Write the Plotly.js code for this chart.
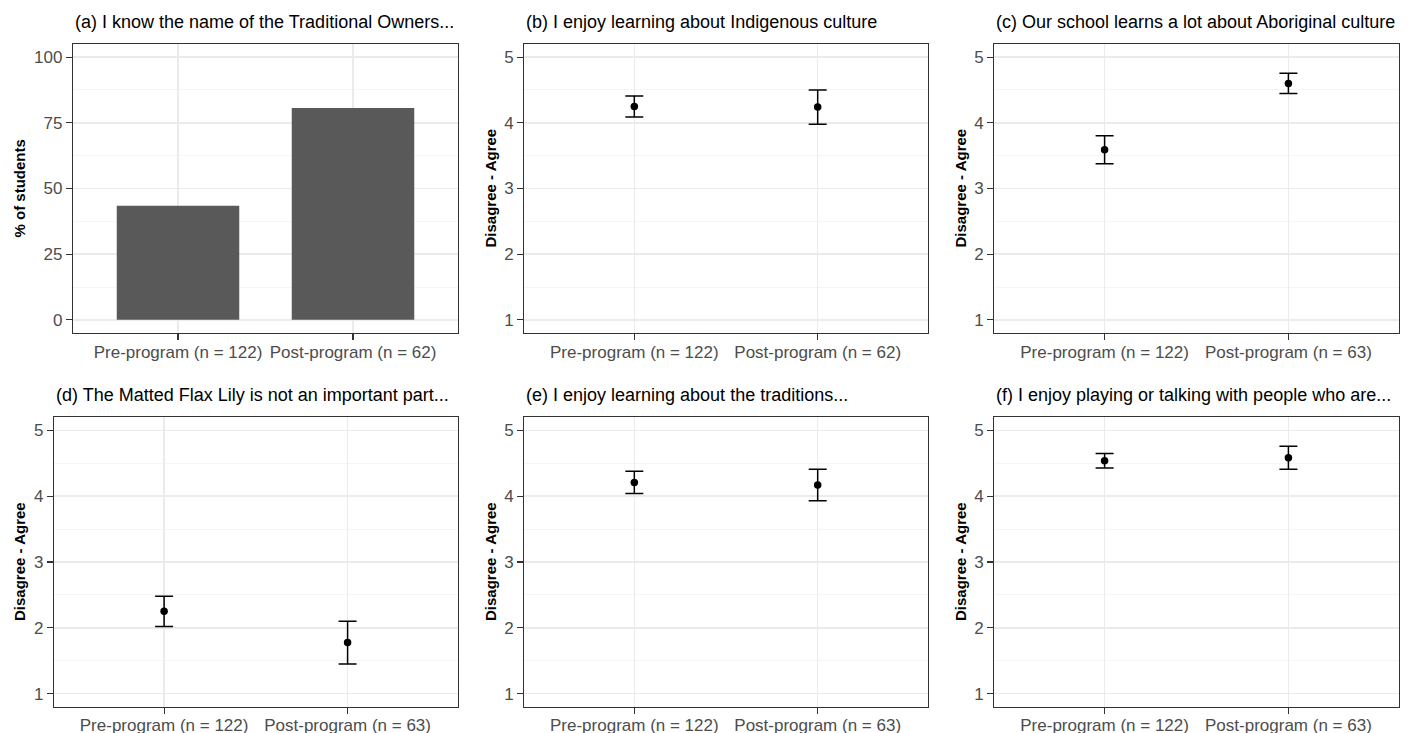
<!DOCTYPE html>
<html>
<head>
<meta charset="utf-8">
<script src="https://cdn.plot.ly/plotly-3.0.1.min.js"></script>
<style>html,body{margin:0;padding:0;background:#fff;}#chart{width:1412px;height:733px;}</style>
</head>
<body>
<div id="chart"></div>
<script>
// ---- data ----
var catsA = ['Pre-program (n = 122)', 'Post-program (n = 62)'];
var catsB = ['Pre-program (n = 122)', 'Post-program (n = 62)'];
var catsC = ['Pre-program (n = 122)', 'Post-program (n = 63)'];
var catsD = ['Pre-program (n = 122)', 'Post-program (n = 63)'];
var catsE = ['Pre-program (n = 122)', 'Post-program (n = 63)'];
var catsF = ['Pre-program (n = 122)', 'Post-program (n = 63)'];

var pctA = [43.4, 80.6];

var meanB = [4.25, 4.24];   var errB = [0.16, 0.26];
var meanC = [3.59, 4.60];   var errC = [0.215, 0.155];
var meanD = [2.25, 1.775];  var errD = [0.23, 0.325];
var meanE = [4.21, 4.17];   var errE = [0.17, 0.24];
var meanF = [4.54, 4.585];  var errF = [0.11, 0.175];

var titles = [
  '(a) I know the name of the Traditional Owners...',
  '(b) I enjoy learning about Indigenous culture',
  '(c) Our school learns a lot about Aboriginal culture',
  '(d) The Matted Flax Lily is not an important part...',
  '(e) I enjoy learning about the traditions...',
  '(f) I enjoy playing or talking with people who are...'
];
var yTitles = ['% of students', 'Disagree - Agree', 'Disagree - Agree',
               'Disagree - Agree', 'Disagree - Agree', 'Disagree - Agree'];

// ---- layout geometry ----
var W = 1412, H = 733;
var topY = [(H - 333) / H, (H - 44) / H];
var botY = [(H - 706.7) / H, (H - 417.3) / H];
var xDom = [
  [73 / W, 458 / W],
  [524.3 / W, 927.7 / W],
  [994.3 / W, 1398.7 / W],
  [54 / W, 457.7 / W],
  [524.3 / W, 927.7 / W],
  [994.3 / W, 1398.7 / W]
];
var yDom = [topY, topY, topY, botY, botY, botY];

var FONT = 'Liberation Sans, Arial, sans-serif';

var traces = [];
traces.push({
  type: 'bar', x: catsA, y: pctA, xaxis: 'x', yaxis: 'y',
  marker: {color: '#595959'}, width: 0.7, hoverinfo: 'x+y'
});
var pts = [[catsB, meanB, errB], [catsC, meanC, errC], [catsD, meanD, errD],
           [catsE, meanE, errE], [catsF, meanF, errF]];
pts.forEach(function (p, i) {
  var n = i + 2;
  traces.push({
    type: 'scatter', mode: 'markers', x: p[0], y: p[1],
    xaxis: 'x' + n, yaxis: 'y' + n,
    marker: {color: '#000000', size: 7.5},
    error_y: {type: 'data', array: p[2], visible: true, color: '#000000',
              thickness: 1.5, width: 9}
  });
});

var layout = {
  width: W, height: H,
  margin: {l: 0, r: 0, t: 0, b: 0},
  paper_bgcolor: '#ffffff', plot_bgcolor: '#ffffff',
  showlegend: false,
  font: {family: FONT, color: '#000000'},
  annotations: []
};

for (var i = 0; i < 6; i++) {
  var n = i + 1;
  var xk = n === 1 ? 'xaxis' : 'xaxis' + n;
  var yk = n === 1 ? 'yaxis' : 'yaxis' + n;
  var yref = n === 1 ? 'y' : 'y' + n;
  var xref = n === 1 ? 'x' : 'x' + n;
  layout[xk] = {
    domain: xDom[i], anchor: yref, type: 'category',
    range: [-0.6, 1.6], fixedrange: true,
    showgrid: true, gridcolor: '#EBEBEB', gridwidth: 1.5,
    showline: true, mirror: true, linecolor: '#333333', linewidth: 1.2,
    ticks: 'outside', ticklen: 6, tickcolor: '#333333', tickwidth: 1.2,
    ticklabelstandoff: -3,
    tickfont: {family: FONT, size: 17, color: '#4D4D4D'},
    zeroline: false
  };
  var yax = {
    domain: yDom[i], anchor: xref, fixedrange: true,
    showgrid: true, gridcolor: '#EBEBEB', gridwidth: 1.5,
    showline: true, mirror: true, linecolor: '#333333', linewidth: 1.2,
    ticks: 'outside', ticklen: 6, tickcolor: '#333333', tickwidth: 1.2,
    tickfont: {family: FONT, size: 17, color: '#4D4D4D'},
    zeroline: false
  };
  if (n === 1) {
    yax.range = [-5, 105];
    yax.tickvals = [0, 25, 50, 75, 100];
    yax.minor = {tickvals: [12.5, 37.5, 62.5, 87.5], showgrid: true,
                 gridcolor: '#F4F4F4', gridwidth: 0.8, ticks: ''};
  } else {
    yax.range = [0.8, 5.2];
    yax.tickvals = [1, 2, 3, 4, 5];
    yax.minor = {tickvals: [1.5, 2.5, 3.5, 4.5], showgrid: true,
                 gridcolor: '#F4F4F4', gridwidth: 0.8, ticks: ''};
  }
  layout[yk] = yax;

  var rowTop = i < 3;
  layout.annotations.push({
    text: titles[i], xref: 'paper', yref: 'paper',
    x: xDom[i][0], xanchor: 'left',
    y: rowTop ? (H - 22) / H : (H - 395) / H, yanchor: 'middle',
    showarrow: false, font: {family: FONT, size: 18, color: '#000000'}
  });
  var yc = [19, 490, 960, 19, 490, 960][i];
  layout.annotations.push({
    text: '<b>' + yTitles[i] + '</b>', xref: 'paper', yref: 'paper',
    x: yc / W, xanchor: 'center',
    y: (yDom[i][0] + yDom[i][1]) / 2, yanchor: 'middle',
    textangle: -90, showarrow: false,
    font: {family: FONT, size: 15, color: '#000000'}
  });
}

Plotly.newPlot('chart', traces, layout, {displayModeBar: false, staticPlot: true});
</script>
</body>
</html>
